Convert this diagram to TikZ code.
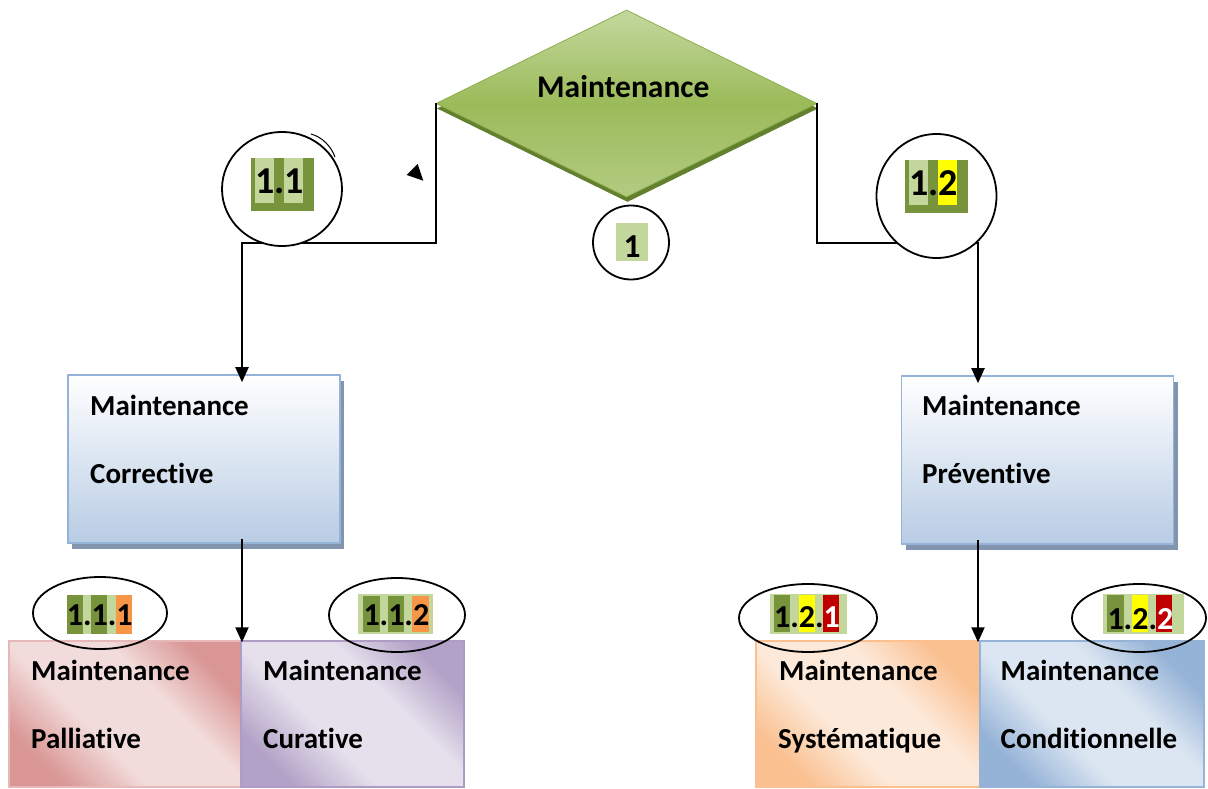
\documentclass[tikz,border=0pt]{standalone}
\usepackage{fontspec}
\setmainfont{Carlito}[Ligatures=NoCommon]
\usetikzlibrary{shapes.geometric,arrows.meta,shadows}
\definecolor{dgreen}{HTML}{77933C}
\definecolor{lgreen}{HTML}{C3D69B}
\definecolor{mgreen}{HTML}{9BBB59}
\definecolor{dtop}{HTML}{C4D89F}
\definecolor{dbot}{HTML}{B3CB82}
\definecolor{dshadow}{HTML}{62802E}
\definecolor{dborder}{HTML}{8DAE4C}
\definecolor{sorange}{HTML}{F79646}
\definecolor{sred}{HTML}{C00000}
\definecolor{syellow}{HTML}{FFFF00}
\definecolor{boxborder}{HTML}{95B3D7}
\definecolor{boxbottom}{HTML}{B8CCE4}
\definecolor{boxshadow}{HTML}{8394AE}
\definecolor{pinkd}{HTML}{D99694}
\definecolor{pinkl}{HTML}{F2DCDB}
\definecolor{pinkb}{HTML}{E6B9B8}
\definecolor{purd}{HTML}{B3A2C7}
\definecolor{purl}{HTML}{E5E0EC}
\definecolor{purb}{HTML}{AE9CC4}
\definecolor{orad}{HTML}{FAC090}
\definecolor{oral}{HTML}{FDE9D9}
\definecolor{blud}{HTML}{95B3D7}
\definecolor{blul}{HTML}{DCE6F2}
\colorlet{lowA}{pinkd}
\colorlet{lowB}{pinkl}
\pgfdeclareverticalshading[lowA,lowB]{lowband}{100bp}{color(0bp)=(lowA); color(25bp)=(lowA); color(41bp)=(lowB); color(60bp)=(lowB); color(75bp)=(lowA); color(100bp)=(lowA)}
\begin{document}
\begin{tikzpicture}[x=1pt,y=-1pt,
  conn/.style={line width=2pt,black,line join=miter},
  arr/.style={conn,-{Triangle[width=13pt,length=15pt]}},
  bigbox/.style={draw=boxborder,line width=1.6pt,top color=white,bottom color=boxbottom,
    minimum width=272pt,minimum height=168pt,inner sep=0pt,
    drop shadow={shadow xshift=4pt,shadow yshift=-6pt,opacity=1,fill=boxshadow}},
  lowbox/.style 2 args={line width=1.4pt,minimum height=146pt,inner sep=0pt,
    /utils/exec={\colorlet{lowA}{#1}\colorlet{lowB}{#2}},shade,shading=lowband,shading angle=-45},
  txt/.style={anchor=base west,inner sep=0pt,font=\fontsize{29}{34}\selectfont\bfseries},
  lbl/.style={anchor=base west,inner sep=0pt,font=\fontsize{32}{38}\selectfont\bfseries},
  biglbl/.style={anchor=base west,inner sep=0pt,font=\fontsize{38}{44}\selectfont\bfseries},
  ring/.style={draw=black,line width=1.8pt,ellipse,inner sep=0pt}
]
\useasboundingbox (0,0) rectangle (1208,789);

% central diamond
\node[diamond,minimum width=381pt,minimum height=187pt,inner sep=0pt,
  draw=dborder,line width=0.8pt,top color=dtop,bottom color=dbot,middle color=mgreen,
  drop shadow={shadow xshift=1pt,shadow yshift=-5pt,opacity=1,fill=dshadow}]
  (root) at (626.5,103.5) {};
\node[txt,font=\fontsize{31.5}{36}\selectfont\bfseries] (roott) at (537,98) {Maintenance};

% junction points
\coordinate (jl) at (242,243);
\coordinate (jr) at (978,243);

% upper boxes
\node[bigbox] (corr) at (204,459) {};
\node[txt] (corrt1) at (90,415.5) {Maintenance};
\node[txt] (corrt2) at (90,483) {Corrective};
\node[bigbox] (prev) at (1037.5,460) {};
\node[txt] (prevt1) at (922,415.5) {Maintenance};
\node[txt] (prevt2) at (922,483) {Préventive};

% connectors from diamond
\draw[arr] (root.west) |- (jl) -- ([yshift=-8pt]jl |- corr.north);
\draw[arr] (root.east) |- (jr) -- ([yshift=-8pt]jr |- prev.north);

% stray arrowhead
\fill[black] (406.7,175) -- (417.7,164) -- (423.3,180.7) -- cycle;

% lower boxes
\node[lowbox={pinkd}{pinkl},draw=pinkb,minimum width=232pt] (pall) at (125,714) {};
\node[lowbox={purd}{purl},draw=purb,minimum width=223pt] (cura) at (352.5,714) {};
\node[lowbox={orad}{oral},draw=orad,minimum width=224pt] (syst) at (868,714) {};
\node[lowbox={blud}{blul},draw=blud,minimum width=224pt] (cond) at (1092,714) {};
\node[txt] (pallt1) at (31,680) {Maintenance};
\node[txt] (pallt2) at (31,748) {Palliative};
\node[txt] (curat1) at (263,680) {Maintenance};
\node[txt] (curat2) at (263,748) {Curative};
\node[txt] (systt1) at (779,680) {Maintenance};
\node[txt] (systt2) at (778,748) {Systématique};
\node[txt] (condt1) at (1000.5,680) {Maintenance};
\node[txt] (condt2) at (1000.5,748) {Conditionnelle};

% lower connectors
\draw[arr] ([yshift=5pt]jl |- corr.south) -- ([yshift=-2pt]jl |- pall.north);
\draw[arr] ([yshift=5pt]jr |- prev.south) -- ([yshift=-2pt]jr |- syst.north);

% rings
\node[ring,fill=white,minimum width=120pt,minimum height=114pt] (c11) at (282,189) {};
\draw[line width=1pt] (311,134) .. controls (322,137) and (331,146) .. (335,157);
\node[ring,fill=white,minimum width=120pt,minimum height=124pt] (c12) at (936.5,196) {};
\node[ring,fill=white,minimum width=76pt,minimum height=74pt] (c1) at (631,242.5) {};
\node[ring,minimum width=134pt,minimum height=72pt] (e111) at (100,613) {};
\node[ring,minimum width=136pt,minimum height=74pt] (e112) at (397,615) {};
\node[ring,minimum width=138pt,minimum height=68pt] (e121) at (808,618) {};
\node[ring,minimum width=134pt,minimum height=68pt] (e122) at (1139,618) {};

% label 1.1
\fill[dgreen] (251,158) rectangle (314,211);
\fill[lgreen] (255,158) rectangle (274.3,203);
\fill[lgreen] (284.1,158) rectangle (303.4,203);
\node[biglbl] (l11) at (255,193.3) {1.1};
% label 1.2
\fill[dgreen] (905,160) rectangle (968,213);
\fill[lgreen] (909,160) rectangle (928.3,205);
\fill[syellow] (938.1,160) rectangle (957.4,205);
\node[biglbl] (l12) at (909,195) {1.2};
% label 1
\fill[lgreen] (615.7,222.7) rectangle (648.3,261);
\node[anchor=base,inner sep=0pt,font=\fontsize{33.5}{40}\selectfont\bfseries] (l1) at (632,257.3) {1};
% label 1.1.1
\fill[lgreen] (66.7,595) rectangle (131.9,634);
\fill[dgreen] (66.7,595) rectangle (82.9,634);
\fill[dgreen] (91.2,595) rectangle (107.4,634);
\fill[sorange] (115.7,595) rectangle (131.9,634);
\node[lbl] (l111) at (66.7,625) {1.1.1};
% label 1.1.2
\fill[lgreen] (358.3,594) rectangle (433.3,634);
\fill[dgreen] (363.3,595.5) rectangle (379.5,632);
\fill[dgreen] (387.8,595.5) rectangle (404,632);
\fill[sorange] (412.3,595.5) rectangle (428.5,632);
\node[lbl] (l112) at (363.3,625) {1.1.2};
% label 1.2.1
\fill[lgreen] (770,594) rectangle (846.7,634);
\fill[dgreen] (774,594.5) rectangle (790.2,632);
\fill[syellow] (798.5,594.5) rectangle (814.7,632);
\fill[sred] (822.9,594.5) rectangle (839.1,632);
\node[lbl] (l121) at (774,627) {1.2.{\color{white}1}};
% label 1.2.2
\fill[lgreen] (1102.7,594) rectangle (1184.3,634);
\fill[dgreen] (1107.3,594.5) rectangle (1123.5,632);
\fill[syellow] (1131.8,594.5) rectangle (1148,632);
\fill[sred] (1156.2,594.5) rectangle (1172.4,632);
\node[lbl] (l122) at (1107.3,629) {1.2.{\color{white}2}};
\end{tikzpicture}
\end{document}
